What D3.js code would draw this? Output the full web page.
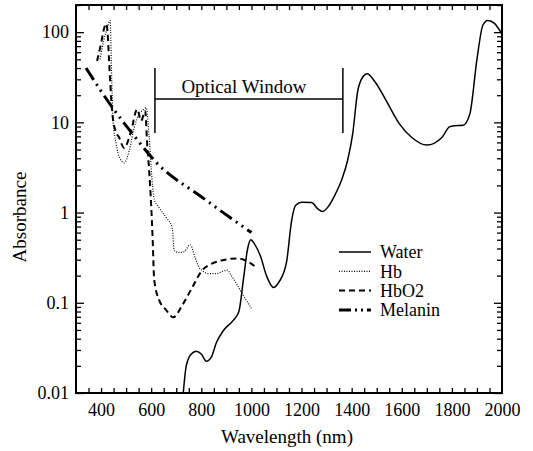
<!DOCTYPE html>
<html>
<head>
<meta charset="utf-8">
<script src="https://cdn.jsdelivr.net/npm/d3@7"></script>
<style>
  html, body { margin: 0; padding: 0; background: #fff; }
</style>
</head>
<body>
<svg id="chart" width="533" height="451"></svg>
<script>
// data: [wavelength nm, absorbance]
const water = [
  [725, 0.008], [740, 0.02], [760, 0.027], [780, 0.029], [800, 0.027], [820, 0.0225],
  [840, 0.025], [860, 0.036], [890, 0.05], [930, 0.065], [950, 0.08], [970, 0.2],
  [985, 0.4], [998, 0.5], [1012, 0.45], [1036, 0.33], [1060, 0.2], [1088, 0.148],
  [1110, 0.17], [1140, 0.28], [1160, 0.8], [1176, 1.2], [1200, 1.3], [1240, 1.29],
  [1265, 1.1], [1284, 1.03], [1310, 1.2], [1335, 1.6], [1360, 2.3], [1384, 3.8],
  [1404, 7.4], [1424, 22], [1445, 32], [1462, 34.5], [1490, 29], [1540, 17],
  [1590, 9.7], [1640, 6.8], [1700, 5.6], [1760, 6.8], [1790, 8.9], [1810, 9.2],
  [1845, 9.3], [1872, 12.5], [1900, 50], [1924, 120], [1944, 135], [1970, 125], [2000, 95]
]
const hb = [
  [396, 50], [410, 80], [425, 110], [436, 135], [444, 21], [448, 10.4], [460, 5.8],
  [475, 4], [492, 3.56], [512, 4.8], [532, 8.7], [552, 12.4], [565, 13.5], [580, 14.5],
  [592, 6.8], [600, 3.1], [606, 1.9], [612, 1.4], [630, 1.15], [660, 0.88], [684, 0.68],
  [692, 0.38], [710, 0.36], [732, 0.37], [756, 0.44], [775, 0.32], [792, 0.245],
  [832, 0.21], [860, 0.21], [880, 0.22], [904, 0.23], [920, 0.2], [940, 0.164],
  [972, 0.115], [1000, 0.087]
]
const hbo2 = [
  [384, 48], [400, 75], [412, 110], [420, 124], [426, 100], [432, 48], [444, 13.4],
  [458, 8], [472, 6.8], [492, 5.2], [520, 8], [544, 14], [560, 10.4], [576, 13.4],
  [584, 5.8], [592, 2.9], [600, 1.2], [606, 0.5], [612, 0.18], [632, 0.107],
  [660, 0.083], [688, 0.069], [724, 0.094], [764, 0.148], [804, 0.23], [840, 0.27],
  [872, 0.29], [940, 0.31], [970, 0.3], [992, 0.28], [1024, 0.24]
]
const melanin = [
  [340, 40], [450, 14], [530, 7.2], [620, 3.6], [800, 1.5], [1000, 0.6]
]

const xLabels = [400, 600, 800, 1000, 1200, 1400, 1600, 1800, 2000]
const yLabels = [0.01, 0.1, 1, 10, 100]
const windowRange = [615, 1365]   // optical window, nm
const windowLevels = [40, 18.2, 7.6] // top of bars, arrow line, bottom of bars

const series = [
  { name: 'Water', values: water, width: 1.5, dash: null },
  { name: 'Hb', values: hb, width: 1.2, dash: '1,1.5' },
  { name: 'HbO2', values: hbo2, width: 2, dash: '6,4' },
  { name: 'Melanin', values: melanin, width: 3, dash: '14,5,2,5,2,5' }
]

const margin = { left: 76, right: 31, top: 5, bottom: 58 }
const size = { width: 533, height: 451 }
const w = size.width - margin.left - margin.right
const h = size.height - margin.top - margin.bottom

const svg = d3.select('#chart')
const g = svg.append('g').attr('transform', `translate(${margin.left},${margin.top})`)

const x = d3.scaleLinear().domain([300, 2000]).range([0, w])
const y = d3.scaleLog().domain([0.01, 200]).range([h, 0])

g.append('clipPath').attr('id', 'plot-clip')
  .append('rect').attr('width', w).attr('height', h)

// ticks, all pointing inward
const xTicks = d3.range(350, 2000, 50)
const yMinor = []
for (let e = -2; e <= 2; e++) {
  for (let m = 2; m <= 9; m++) {
    const v = m * Math.pow(10, e)
    if (v <= 200) yMinor.push(v)
  }
}

g.append('g').attr('transform', `translate(0,${h})`)
  .call(d3.axisBottom(x).tickValues(xTicks).tickSize(-5).tickFormat(''))
g.append('g')
  .call(d3.axisTop(x).tickValues(xTicks).tickSize(-5).tickFormat(''))
g.append('g')
  .call(d3.axisLeft(y).tickValues(yMinor).tickSize(-5).tickFormat(''))
g.append('g').attr('transform', `translate(${w},0)`)
  .call(d3.axisRight(y).tickValues(yMinor).tickSize(-5).tickFormat(''))
g.append('g')
  .call(d3.axisLeft(y).tickValues(yLabels).tickSize(-8).tickFormat(''))
g.append('g').attr('transform', `translate(${w},0)`)
  .call(d3.axisRight(y).tickValues(yLabels).tickSize(-8).tickFormat(''))
g.selectAll('.domain').remove()
g.selectAll('.tick line').attr('stroke', '#000').attr('stroke-width', 1.3)

// tick labels
g.append('g').attr('transform', `translate(0,${h})`)
  .call(d3.axisBottom(x).tickValues(xLabels).tickSize(0).tickPadding(10).tickFormat(d3.format('d')))
  .call(a => a.select('.domain').remove())
  .selectAll('text').attr('font-size', 18)
g.append('g')
  .call(d3.axisLeft(y).tickValues(yLabels).tickSize(0).tickPadding(7)
    .tickFormat(d => d >= 1 ? d3.format('d')(d) : String(d)))
  .call(a => a.select('.domain').remove())
  .selectAll('text').attr('font-size', 18)

// frame
g.append('rect')
  .attr('width', w).attr('height', h)
  .attr('fill', 'none').attr('stroke', '#000').attr('stroke-width', 2)

// curves
const line = d3.line()
  .x(d => x(d[0]))
  .y(d => y(d[1]))
  .curve(d3.curveMonotoneX)

g.append('g').attr('clip-path', 'url(#plot-clip)')
  .selectAll('path')
  .data(series)
  .join('path')
  .attr('d', d => line(d.values))
  .attr('fill', 'none')
  .attr('stroke', '#000')
  .attr('stroke-width', d => d.width)
  .attr('stroke-dasharray', d => d.dash)

// optical window annotation
const ann = g.append('g').attr('stroke', '#000').attr('stroke-width', 1.5)
windowRange.forEach(v => {
  ann.append('line')
    .attr('x1', x(v)).attr('x2', x(v))
    .attr('y1', y(windowLevels[0])).attr('y2', y(windowLevels[2]))
})
ann.append('line')
  .attr('x1', x(windowRange[0])).attr('x2', x(windowRange[1]))
  .attr('y1', y(windowLevels[1])).attr('y2', y(windowLevels[1]))
g.append('text')
  .attr('x', x(970)).attr('y', y(windowLevels[1]) - 6)
  .attr('text-anchor', 'middle')
  .attr('font-size', 19)
  .text('Optical Window')

// legend
const legend = g.append('g').attr('transform', `translate(${339 - margin.left},${252 - margin.top})`)
const row = legend.selectAll('g').data(series).join('g')
  .attr('transform', (d, i) => `translate(0,${i * 19.3})`)
row.append('line')
  .attr('x1', 0).attr('x2', 32)
  .attr('stroke', '#000')
  .attr('stroke-width', d => d.width)
  .attr('stroke-dasharray', d => d.name === 'Melanin' ? '12,4,2,4,2,4' : d.dash)
row.append('text')
  .attr('x', 41).attr('dy', '0.35em')
  .attr('font-size', 18)
  .text(d => d.name)

// axis titles
svg.append('text')
  .attr('x', margin.left + w / 2 - 2).attr('y', 443)
  .attr('text-anchor', 'middle')
  .attr('font-size', 19)
  .text('Wavelength (nm)')
svg.append('text')
  .attr('transform', 'translate(26,217) rotate(-90)')
  .attr('text-anchor', 'middle')
  .attr('font-size', 19)
  .text('Absorbance')

svg.selectAll('text').attr('font-family', 'Liberation Serif').attr('fill', '#000')
</script>
</body>
</html>
